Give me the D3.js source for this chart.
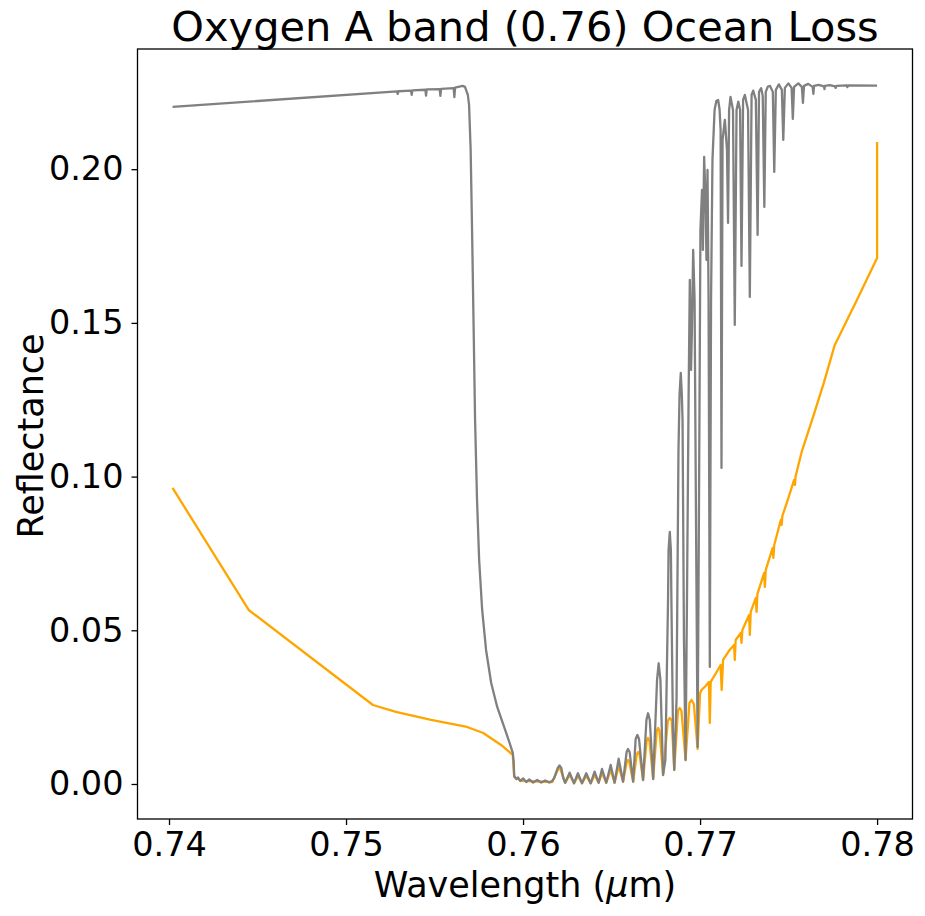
<!DOCTYPE html>
<html lang="en">
<head>
  <meta charset="utf-8" />
  <title>Oxygen A band (0.76) Ocean Loss</title>
  <script type="text/javascript" src="https://cdn.jsdelivr.net/npm/d3@7/dist/d3.min.js"></script>
  <style>
    body { margin: 0; background: white; }
    text { font-family: "DejaVu Sans", sans-serif; fill: black; }
  </style>
</head>
<body>
<script type="text/javascript">

// grey spectrum: [wavelength (um), reflectance]
var greySpectrum = [
  [0.74020, 0.22027], [0.75288, 0.22530], [0.75292, 0.22450], [0.75296, 0.22535],
  [0.75367, 0.22555], [0.75371, 0.22417], [0.75375, 0.22565], [0.75448, 0.22585],
  [0.75452, 0.22395], [0.75456, 0.22595], [0.75529, 0.22605], [0.75533, 0.22385],
  [0.75537, 0.22615], [0.75608, 0.22640], [0.75612, 0.22342], [0.75616, 0.22650],
  [0.75659, 0.22710], [0.75672, 0.22678], [0.75688, 0.22417], [0.75695, 0.22092],
  [0.75704, 0.20628], [0.75712, 0.18025], [0.75721, 0.14771], [0.75729, 0.11843],
  [0.75740, 0.09240], [0.75752, 0.07288], [0.75769, 0.05661], [0.75791, 0.04360],
  [0.75820, 0.03286], [0.75854, 0.02505], [0.75893, 0.01855], [0.75922, 0.01367],
  [0.75942, 0.01009], [0.75947, 0.00716], [0.75950, 0.00260], [0.75961, 0.00163],
  [0.75972, 0.00211], [0.75984, 0.00098], [0.76001, 0.00179], [0.76018, 0.00065],
  [0.76035, 0.00146], [0.76057, 0.00049], [0.76080, 0.00130], [0.76103, 0.00049],
  [0.76125, 0.00114], [0.76148, 0.00049], [0.76165, 0.00098], [0.76176, 0.00195],
  [0.76196, 0.00521], [0.76206, 0.00602], [0.76216, 0.00521], [0.76227, 0.00195],
  [0.76238, 0.00042], [0.76263, 0.00368], [0.76288, 0.00023], [0.76310, 0.00348],
  [0.76333, 0.00023], [0.76357, 0.00348], [0.76382, 0.00023], [0.76404, 0.00400],
  [0.76427, 0.00042], [0.76446, 0.00488], [0.76470, 0.00042], [0.76495, 0.00618],
  [0.76517, 0.00042], [0.76540, 0.00823], [0.76565, 0.00075], [0.76585, 0.01041],
  [0.76593, 0.01139], [0.76602, 0.01041], [0.76622, 0.00075], [0.76636, 0.01464],
  [0.76646, 0.01594], [0.76655, 0.01464], [0.76678, 0.00130], [0.76697, 0.02082],
  [0.76706, 0.02300], [0.76716, 0.02082], [0.76735, 0.00163], [0.76757, 0.03384],
  [0.76766, 0.03927], [0.76776, 0.03384], [0.76791, 0.00293], [0.76804, 0.00781],
  [0.76819, 0.05987], [0.76822, 0.07613], [0.76829, 0.08199], [0.76835, 0.07613],
  [0.76838, 0.05987], [0.76847, 0.01757], [0.76854, 0.00456], [0.76867, 0.02733],
  [0.76878, 0.10867], [0.76884, 0.12657], [0.76891, 0.13372], [0.76897, 0.12657],
  [0.76901, 0.11843], [0.76909, 0.04685], [0.76918, 0.00781], [0.76926, 0.05987],
  [0.76935, 0.12494], [0.76942, 0.16398], [0.76949, 0.13470], [0.76954, 0.14771],
  [0.76961, 0.17374], [0.76969, 0.15747], [0.76977, 0.08590], [0.76986, 0.01204],
  [0.76994, 0.09240], [0.77002, 0.18025], [0.77011, 0.19326], [0.77016, 0.17374],
  [0.77023, 0.20400], [0.77031, 0.19001], [0.77036, 0.17049], [0.77042, 0.19977],
  [0.77048, 0.15747], [0.77055, 0.03807], [0.77062, 0.15747], [0.77070, 0.20302],
  [0.77082, 0.21929], [0.77092, 0.22220], [0.77102, 0.22255], [0.77110, 0.21950],
  [0.77116, 0.21279], [0.77121, 0.10281], [0.77127, 0.20953], [0.77140, 0.21604],
  [0.77152, 0.20628], [0.77158, 0.18253], [0.77164, 0.21929], [0.77172, 0.22352],
  [0.77186, 0.21929], [0.77196, 0.14934], [0.77206, 0.21929], [0.77216, 0.22199],
  [0.77226, 0.21929], [0.77234, 0.16854], [0.77243, 0.22255], [0.77253, 0.22417],
  [0.77271, 0.21929], [0.77281, 0.15845], [0.77291, 0.22417], [0.77300, 0.22557],
  [0.77315, 0.22255], [0.77325, 0.17862], [0.77333, 0.22515], [0.77345, 0.22635],
  [0.77354, 0.22385], [0.77363, 0.18773], [0.77371, 0.22515], [0.77383, 0.22690],
  [0.77395, 0.22710], [0.77411, 0.22515], [0.77419, 0.19912], [0.77428, 0.22580],
  [0.77445, 0.22759], [0.77462, 0.22580], [0.77470, 0.20953], [0.77479, 0.22645],
  [0.77499, 0.22791], [0.77517, 0.22645], [0.77524, 0.21636], [0.77531, 0.22678],
  [0.77555, 0.22791], [0.77575, 0.22678], [0.77581, 0.22157], [0.77587, 0.22710],
  [0.77611, 0.22775], [0.77636, 0.22678], [0.77640, 0.22450], [0.77644, 0.22710],
  [0.77670, 0.22743], [0.77700, 0.22694], [0.77703, 0.22603], [0.77705, 0.22710],
  [0.77733, 0.22733], [0.77762, 0.22694], [0.77766, 0.22645], [0.77770, 0.22710],
  [0.77829, 0.22726], [0.77832, 0.22670], [0.77835, 0.22726], [0.78000, 0.22716]
];

// orange spectrum
var orangeSpectrum = [
  [0.74020, 0.09631], [0.74450, 0.05661], [0.75152, 0.02570], [0.75282, 0.02343],
  [0.75480, 0.02082], [0.75684, 0.01855], [0.75775, 0.01659], [0.75876, 0.01269],
  [0.75942, 0.00944], [0.75950, 0.00228], [0.75989, 0.00098], [0.76165, 0.00065],
  [0.76196, 0.00456], [0.76206, 0.00553], [0.76227, 0.00228], [0.76238, 0.00033],
  [0.76263, 0.00293], [0.76288, 0.00023], [0.76310, 0.00260], [0.76333, 0.00023],
  [0.76357, 0.00260], [0.76382, 0.00023], [0.76404, 0.00293], [0.76427, 0.00042],
  [0.76446, 0.00358], [0.76470, 0.00042], [0.76495, 0.00456], [0.76517, 0.00042],
  [0.76540, 0.00586], [0.76565, 0.00075], [0.76586, 0.00720], [0.76593, 0.00781],
  [0.76600, 0.00720], [0.76622, 0.00075], [0.76642, 0.00960], [0.76650, 0.01041],
  [0.76658, 0.00960], [0.76678, 0.00130], [0.76698, 0.01400], [0.76706, 0.01497],
  [0.76714, 0.01400], [0.76735, 0.00163], [0.76755, 0.01720], [0.76763, 0.01822],
  [0.76771, 0.01720], [0.76791, 0.00293], [0.76818, 0.02050], [0.76829, 0.02147],
  [0.76840, 0.02050], [0.76854, 0.00456], [0.76875, 0.02380], [0.76885, 0.02473],
  [0.76895, 0.02380], [0.76918, 0.00781], [0.76940, 0.02640], [0.76952, 0.02733],
  [0.76965, 0.02600], [0.76986, 0.01139], [0.77000, 0.02950], [0.77008, 0.03058],
  [0.77031, 0.03189], [0.77050, 0.03319], [0.77055, 0.01985], [0.77060, 0.03319],
  [0.77087, 0.03579], [0.77116, 0.03872], [0.77122, 0.03058], [0.77130, 0.04034],
  [0.77167, 0.04360], [0.77192, 0.04523], [0.77196, 0.04034], [0.77201, 0.04685],
  [0.77230, 0.04913], [0.77234, 0.04588], [0.77239, 0.05011], [0.77277, 0.05499],
  [0.77281, 0.04848], [0.77286, 0.05596], [0.77315, 0.06052], [0.77319, 0.05596],
  [0.77324, 0.06182], [0.77362, 0.06865], [0.77366, 0.06410], [0.77371, 0.06963],
  [0.77410, 0.07679], [0.77414, 0.07353], [0.77419, 0.07776], [0.77456, 0.08590],
  [0.77461, 0.08427], [0.77465, 0.08720], [0.77499, 0.09305], [0.77531, 0.09891],
  [0.77536, 0.09728], [0.77540, 0.10021], [0.77574, 0.10802], [0.77642, 0.12006],
  [0.77699, 0.13047], [0.77761, 0.14283], [0.77886, 0.15747], [0.78000, 0.17114],
  [0.78000, 0.20888]
];

var xTicks = [0.74, 0.75, 0.76, 0.77, 0.78];
var yTicks = [0.00, 0.05, 0.10, 0.15, 0.20];

var w = 925;
var h = 916;
var pad = {left: 137.5, right: 12.5, top: 49, bottom: 97};

var xScale = d3.scaleLinear()
               .domain([0.73822, 0.78200])
               .range([pad.left, w - pad.right]);
var yScale = d3.scaleLinear()
               .domain([-0.01139, 0.2391])
               .range([h - pad.bottom, pad.top]);

var svg = d3.select("body")
            .append("svg")
            .attr("width", w)
            .attr("height", h);

var line = d3.line()
             .x(function(d) { return xScale(d[0]); })
             .y(function(d) { return yScale(d[1]); });

// orange first, grey drawn on top of it
svg.append("path")
   .datum(orangeSpectrum)
   .attr("d", line)
   .attr("fill", "none")
   .attr("stroke", "#ffa500")
   .attr("stroke-width", 2.3)
   .attr("stroke-linejoin", "round");
svg.append("path")
   .datum(greySpectrum)
   .attr("d", line)
   .attr("fill", "none")
   .attr("stroke", "#808080")
   .attr("stroke-width", 2.3)
   .attr("stroke-linejoin", "round");

// frame
svg.append("rect")
   .attr("x", pad.left)
   .attr("y", pad.top)
   .attr("width", w - pad.left - pad.right)
   .attr("height", h - pad.top - pad.bottom)
   .attr("fill", "none")
   .attr("stroke", "black")
   .attr("stroke-width", 1.3);

var xAxis = d3.axisBottom(xScale)
              .tickValues(xTicks)
              .tickFormat(d3.format(".2f"))
              .tickSize(6)
              .tickSizeOuter(0)
              .tickPadding(7);
var yAxis = d3.axisLeft(yScale)
              .tickValues(yTicks)
              .tickFormat(d3.format(".2f"))
              .tickSize(6)
              .tickSizeOuter(0)
              .tickPadding(8);

var gx = svg.append("g")
   .attr("transform", "translate(0," + (h - pad.bottom) + ")")
   .call(xAxis);
var gy = svg.append("g")
   .attr("transform", "translate(" + pad.left + ",0)")
   .call(yAxis);
[gx, gy].forEach(function(g) {
  g.select(".domain").remove();
  g.selectAll("line").attr("stroke", "black").attr("stroke-width", 1.3);
  g.selectAll("text").attr("font-size", 33.5).attr("font-family", "DejaVu Sans");
});

svg.append("text")
   .attr("x", (pad.left + w - pad.right) / 2)
   .attr("y", 41)
   .attr("text-anchor", "middle")
   .attr("font-size", 41.5)
   .text("Oxygen A band (0.76) Ocean Loss");

var xl = svg.append("text")
   .attr("x", (pad.left + w - pad.right) / 2)
   .attr("y", 897)
   .attr("text-anchor", "middle")
   .attr("font-size", 35);
xl.append("tspan").text("Wavelength (");
xl.append("tspan").attr("font-style", "italic").text("\u03bc");
xl.append("tspan").text("m)");

svg.append("text")
   .attr("transform", "translate(43," + ((pad.top + h - pad.bottom) / 2 + 2) + ") rotate(-90)")
   .attr("text-anchor", "middle")
   .attr("font-size", 35)
   .text("Reflectance");

</script>
</body>
</html>
